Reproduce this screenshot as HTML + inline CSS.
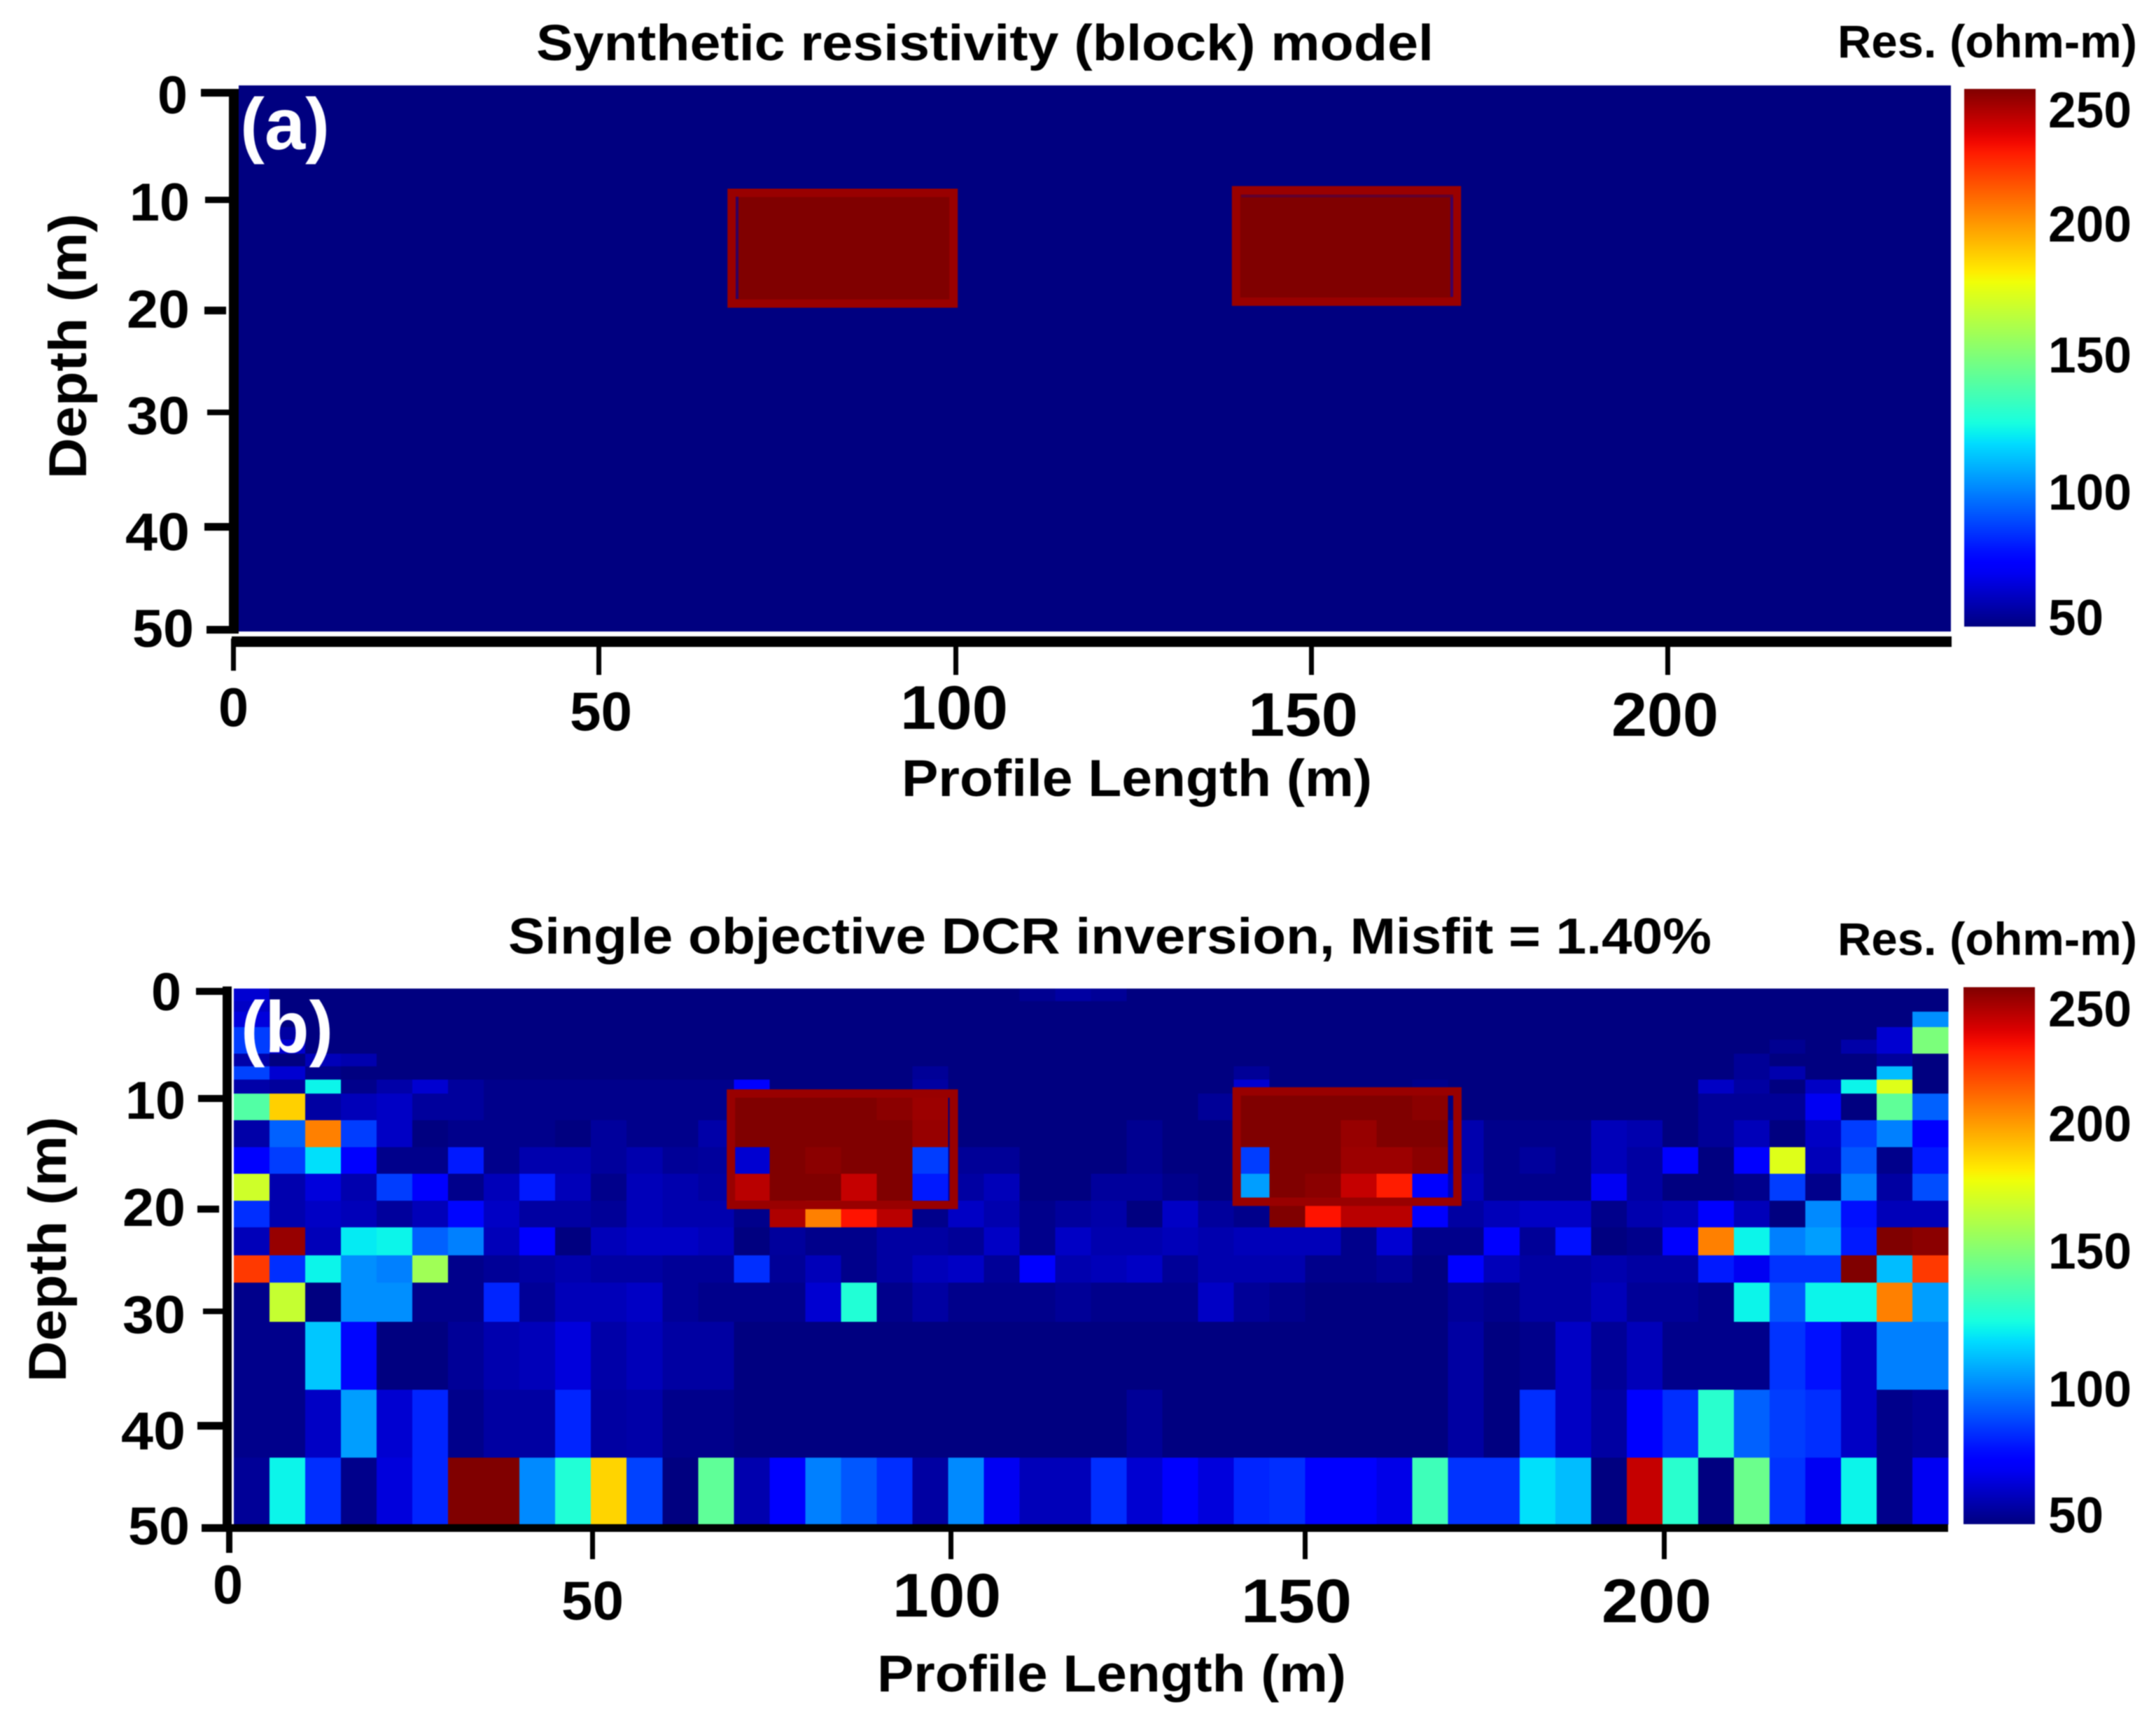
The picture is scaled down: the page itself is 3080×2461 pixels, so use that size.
<!DOCTYPE html>
<html lang="en">
<head>
<meta charset="utf-8">
<title>Synthetic resistivity model and DCR inversion</title>
<style>
html,body{margin:0;padding:0;background:#fff;width:3080px;height:2461px;overflow:hidden}
svg{display:block;filter:blur(0.7px)}
text{font-family:"Liberation Sans",sans-serif;font-weight:700;fill:#000}
</style>
</head>
<body>
<svg id="chart" xmlns="http://www.w3.org/2000/svg" width="3080" height="2461" viewBox="0 0 3080 2461">
<defs>
<linearGradient id="jetGrad" x1="0" y1="1" x2="0" y2="0"></linearGradient>
</defs>
<rect width="3080" height="2461" fill="#fff"/>

<!-- Panel A -->
<g id="panelA">
  <text x="766" y="86" font-size="72" textLength="1282" lengthAdjust="spacingAndGlyphs">Synthetic resistivity (block) model</text>
  <text x="2625" y="82" font-size="66" textLength="428" lengthAdjust="spacingAndGlyphs">Res. (ohm-m)</text>
  <rect id="plotA" x="341" y="122" width="2446" height="780" fill="#000080"/>
  <g id="blocksA"></g>
  <rect x="1051" y="281" width="4" height="146" fill="#300060"/>
  <rect x="2072" y="278" width="4" height="146" fill="#400060"/>
  <rect x="1773" y="278" width="303" height="4" fill="#600030"/>
  <rect x="327" y="127" width="14" height="778" fill="#000"/>
  <rect x="331" y="909" width="2457" height="15" fill="#000"/>
  <g fill="#000">
    <rect x="287" y="127" width="42" height="11"/>
    <rect x="293" y="281" width="36" height="9"/>
    <rect x="292" y="438" width="31" height="11"/>
    <rect x="296" y="585" width="33" height="8"/>
    <rect x="292" y="747" width="36" height="11"/>
    <rect x="295" y="894" width="34" height="11"/>
  </g>
  <g font-size="76" text-anchor="end">
    <text x="268" y="162" textLength="43" lengthAdjust="spacingAndGlyphs">0</text>
    <text x="271" y="315" textLength="86" lengthAdjust="spacingAndGlyphs">10</text>
    <text x="271" y="468" textLength="90" lengthAdjust="spacingAndGlyphs">20</text>
    <text x="271" y="620" textLength="90" lengthAdjust="spacingAndGlyphs">30</text>
    <text x="271" y="786" textLength="92" lengthAdjust="spacingAndGlyphs">40</text>
    <text x="277" y="924" textLength="88" lengthAdjust="spacingAndGlyphs">50</text>
  </g>
  <text transform="translate(123,684) rotate(-90)" font-size="76" textLength="379" lengthAdjust="spacingAndGlyphs">Depth (m)</text>
  <g fill="#000">
    <rect x="330" y="912" width="7" height="46"/>
    <rect x="852" y="920" width="7" height="44"/>
    <rect x="1362" y="920" width="7" height="44"/>
    <rect x="1870" y="920" width="7" height="44"/>
    <rect x="2379" y="920" width="7" height="44"/>
  </g>
  <g>
    <text x="312" y="1037" font-size="78" textLength="43" lengthAdjust="spacingAndGlyphs">0</text>
    <text x="814" y="1043" font-size="78" textLength="89" lengthAdjust="spacingAndGlyphs">50</text>
    <text x="1286" y="1041" font-size="88" textLength="154" lengthAdjust="spacingAndGlyphs">100</text>
    <text x="1783" y="1051" font-size="88" textLength="157" lengthAdjust="spacingAndGlyphs">150</text>
    <text x="2302" y="1051" font-size="88" textLength="153" lengthAdjust="spacingAndGlyphs">200</text>
  </g>
  <text x="1288" y="1137" font-size="74" textLength="672" lengthAdjust="spacingAndGlyphs">Profile Length (m)</text>
  <text x="343" y="213" font-size="104" style="fill:#fff" textLength="128" lengthAdjust="spacingAndGlyphs">(a)</text>
  <rect x="2806" y="127" width="102" height="768" fill="url(#jetGrad)"/>
  <g font-size="72">
    <text x="2926" y="182" textLength="119" lengthAdjust="spacingAndGlyphs">250</text>
    <text x="2926" y="345" textLength="119" lengthAdjust="spacingAndGlyphs">200</text>
    <text x="2926" y="532" textLength="119" lengthAdjust="spacingAndGlyphs">150</text>
    <text x="2926" y="728" textLength="119" lengthAdjust="spacingAndGlyphs">100</text>
    <text x="2926" y="907" textLength="79" lengthAdjust="spacingAndGlyphs">50</text>
  </g>
</g>

<!-- Panel B -->
<g id="panelB">
  <text x="726" y="1362" font-size="72" textLength="1719" lengthAdjust="spacingAndGlyphs">Single objective DCR inversion, Misfit = 1.40%</text>
  <text x="2625" y="1364" font-size="66" textLength="428" lengthAdjust="spacingAndGlyphs">Res. (ohm-m)</text>
  <g id="cellsB" shape-rendering="crispEdges"></g>
  <g id="boxesB"></g>
  <rect x="318" y="1409" width="13" height="774" fill="#000"/>
  <rect x="288" y="2177" width="2495" height="11" fill="#000"/>
  <g fill="#000">
    <rect x="280" y="1411" width="40" height="10"/>
    <rect x="283" y="1564" width="37" height="10"/>
    <rect x="282" y="1722" width="31" height="10"/>
    <rect x="290" y="1869" width="30" height="8"/>
    <rect x="282" y="2031" width="38" height="11"/>
  </g>
  <g font-size="76" text-anchor="end">
    <text x="259" y="1443" textLength="43" lengthAdjust="spacingAndGlyphs">0</text>
    <text x="265" y="1598" textLength="86" lengthAdjust="spacingAndGlyphs">10</text>
    <text x="265" y="1751" textLength="90" lengthAdjust="spacingAndGlyphs">20</text>
    <text x="265" y="1904" textLength="90" lengthAdjust="spacingAndGlyphs">30</text>
    <text x="265" y="2070" textLength="92" lengthAdjust="spacingAndGlyphs">40</text>
    <text x="271" y="2206" textLength="88" lengthAdjust="spacingAndGlyphs">50</text>
  </g>
  <text transform="translate(94,1974) rotate(-90)" font-size="76" textLength="379" lengthAdjust="spacingAndGlyphs">Depth (m)</text>
  <g fill="#000">
    <rect x="323" y="2183" width="9" height="35"/>
    <rect x="843" y="2185" width="7" height="42"/>
    <rect x="1355" y="2185" width="7" height="42"/>
    <rect x="1861" y="2185" width="7" height="42"/>
    <rect x="2374" y="2185" width="7" height="42"/>
  </g>
  <g>
    <text x="304" y="2290" font-size="78" textLength="43" lengthAdjust="spacingAndGlyphs">0</text>
    <text x="802" y="2313" font-size="78" textLength="89" lengthAdjust="spacingAndGlyphs">50</text>
    <text x="1275" y="2309" font-size="88" textLength="155" lengthAdjust="spacingAndGlyphs">100</text>
    <text x="1773" y="2317" font-size="88" textLength="158" lengthAdjust="spacingAndGlyphs">150</text>
    <text x="2288" y="2317" font-size="88" textLength="157" lengthAdjust="spacingAndGlyphs">200</text>
  </g>
  <text x="1253" y="2416" font-size="74" textLength="670" lengthAdjust="spacingAndGlyphs">Profile Length (m)</text>
  <text x="344" y="1503" font-size="104" style="fill:#fff" textLength="132" lengthAdjust="spacingAndGlyphs">(b)</text>
  <rect x="2805" y="1410" width="102" height="767" fill="url(#jetGrad)"/>
  <g font-size="72">
    <text x="2926" y="1466" textLength="119" lengthAdjust="spacingAndGlyphs">250</text>
    <text x="2926" y="1630" textLength="119" lengthAdjust="spacingAndGlyphs">200</text>
    <text x="2926" y="1812" textLength="119" lengthAdjust="spacingAndGlyphs">150</text>
    <text x="2926" y="2009" textLength="119" lengthAdjust="spacingAndGlyphs">100</text>
    <text x="2926" y="2189" textLength="79" lengthAdjust="spacingAndGlyphs">50</text>
  </g>
</g>
</svg>

<script>
// Data (metres and ohm-m)
const columnWidthM = 5;
const depthEdgesM = [0,1.18,2.16,3.6,4.77,6.08,7.25,8.5,9.8,12.3,14.8,17.3,19.8,22.3,24.9,27.45,31.1,37.45,43.8,50];
const resMin = 50;
const resMax = 250;
const blockXStartA = [69.1,139.8];
const blockXEndA = [100.2,170.75];
const blockDepthTopA = [9.84,9.6];
const blockDepthBottomA = [19.97,19.8];
const blockXStartB = [69.6,140.4];
const blockXEndB = [100.8,171.3];
const blockDepthTopB = [9.8,9.6];
const blockDepthBottomB = [20.2,19.9];
const resistivityRows = [
[64,50,50,50,50,50,50,50, 50,50,50,50,50,50,50,50, 50,50,50,50,50,50,53,56, 54,50,50,50,50,50,50,50, 50,50,50,50,50,50,50,50, 50,50,50,50,50,50,50,50],
[62,50,50,50,50,50,50,50, 50,50,50,50,50,50,50,50, 50,50,50,50,50,50,50,50, 50,50,50,50,50,50,50,50, 50,50,50,50,50,50,50,50, 50,50,50,50,50,50,50,50],
[66,50,50,50,50,50,50,50, 50,50,50,50,50,50,50,50, 50,50,50,50,50,50,50,50, 50,50,50,50,50,50,50,50, 50,50,50,50,50,50,50,50, 50,50,50,50,50,50,50,103],
[87,56,50,50,50,50,50,50, 50,50,50,50,50,50,50,50, 50,50,50,50,50,50,50,50, 50,50,50,50,50,50,50,50, 50,50,50,50,50,50,50,50, 50,50,50,50,50,50,64,150],
[87,64,50,50,50,50,50,50, 50,50,50,50,50,50,50,50, 50,50,50,50,50,50,50,50, 50,50,50,50,50,50,50,50, 50,50,50,50,50,50,50,50, 50,50,50,53,50,57,64,150],
[57,50,60,58,50,50,50,50, 50,50,50,50,50,50,50,50, 50,50,50,50,50,50,50,50, 50,50,50,50,50,50,50,50, 50,50,50,50,50,50,50,50, 50,50,54,50,50,50,55,50],
[88,64,52,50,50,50,50,50, 50,50,50,50,50,50,50,50, 50,50,50,54,50,50,50,50, 50,50,50,50,54,50,50,50, 50,50,50,50,50,50,50,50, 50,50,54,58,50,50,112,50],
[57,55,123,52,57,64,55,52, 52,52,52,52,52,52,72,50, 50,50,50,56,50,50,50,50, 50,50,50,50,64,50,50,50, 50,52,50,50,50,50,50,50, 50,62,56,50,62,123,174,50],
[140,188,56,60,62,55,55,52, 52,52,52,52,52,52,250,250, 250,250,248,245,50,50,50,50, 50,50,50,54,250,250,250,250, 250,248,50,50,50,50,50,50, 50,54,54,54,70,50,143,94],
[57,94,205,87,62,50,52,52, 52,50,55,52,52,57,250,250, 250,250,250,246,50,50,50,50, 50,53,50,50,250,250,250,246, 250,250,58,52,52,52,60,58, 50,54,60,50,62,87,100,72],
[72,87,119,72,52,52,80,52, 58,58,55,58,54,55,64,250, 248,250,250,87,54,54,50,50, 50,53,50,50,87,250,250,245, 245,248,58,52,55,52,60,56, 74,50,72,174,60,92,52,80],
[170,58,66,58,87,72,52,60, 80,60,52,60,58,56,240,250, 250,238,250,80,56,60,50,50, 55,55,52,50,106,250,248,238, 226,72,60,52,52,52,70,56, 50,50,52,87,52,100,56,90],
[84,58,62,60,55,60,76,62, 56,56,54,60,58,58,52,242, 205,228,240,52,62,58,52,55, 57,50,62,55,52,250,228,240, 240,72,56,60,62,62,52,58, 60,72,60,50,102,78,60,60],
[60,246,60,121,123,94,100,60, 72,50,60,62,62,60,50,55, 52,52,56,56,54,62,52,62, 58,58,60,58,60,60,60,52, 64,52,52,72,54,78,50,52, 72,205,123,100,106,80,250,248],
[220,84,123,103,100,159,52,54, 56,58,56,56,54,54,84,54, 60,52,56,60,62,54,72,58, 60,62,54,58,58,58,52,52, 54,50,72,60,56,56,58,56, 56,80,70,85,85,250,112,220],
[52,168,50,103,103,52,52,82, 54,60,60,62,54,52,52,52, 64,128,52,56,52,52,52,54, 52,52,52,62,54,52,50,50, 50,50,54,52,56,56,60,54, 54,52,123,92,123,123,205,106],
[52,52,114,76,50,50,54,58, 60,66,57,60,56,56,50,50, 50,50,50,50,50,50,50,50, 50,50,50,50,50,50,50,50, 50,50,56,50,52,62,54,60, 52,52,52,85,78,62,100,100],
[52,52,62,106,64,82,52,56, 56,82,56,57,52,52,50,50, 50,50,50,50,50,50,50,50, 50,54,50,50,50,50,50,50, 50,50,56,50,84,62,56,72, 84,130,94,87,84,62,52,54],
[54,123,84,52,66,82,250,250, 102,128,187,88,50,143,58,72, 100,92,84,56,102,70,60,60, 84,64,74,66,82,84,72,72, 68,135,85,85,119,112,50,238, 130,50,146,85,70,123,52,70]
];

// Axis functions
const NS = 'http://www.w3.org/2000/svg';
function xA(m){ return 341 + m * (2446 / 240); }
function zA(m){ return 122 + m * (780 / 50); }
function xB(m){ return 334 + m * (2449 / 240); }
function zB(m){ return 1412 + m * (765 / 50); }

function lerpStops(t, stops){
  for(let i = 1; i < stops.length; i++){
    if(t <= stops[i][0]){
      const a = stops[i-1], b = stops[i];
      return a[1] + (b[1] - a[1]) * (t - a[0]) / (b[0] - a[0]);
    }
  }
  return stops[stops.length-1][1];
}
function jet(t){
  t = Math.max(0, Math.min(1, t));
  const r = lerpStops(t, [[0,0],[0.35,0],[0.66,1],[0.89,1],[1,0.5]]);
  const g = lerpStops(t, [[0,0],[0.125,0],[0.375,1],[0.64,1],[0.91,0],[1,0]]);
  const b = lerpStops(t, [[0,0.5],[0.11,1],[0.34,1],[0.65,0],[1,0]]);
  return 'rgb(' + Math.round(r*255) + ',' + Math.round(g*255) + ',' + Math.round(b*255) + ')';
}
function colorOf(v){ return jet((v - resMin) / (resMax - resMin)); }

// Colorbar gradient
const grad = document.getElementById('jetGrad');
for(let i = 0; i <= 50; i++){
  const stop = document.createElementNS(NS, 'stop');
  stop.setAttribute('offset', (i / 50));
  stop.setAttribute('stop-color', jet(i / 50));
  grad.appendChild(stop);
}

// Panel (b) heatmap cells
const cellsB = document.getElementById('cellsB');
resistivityRows.forEach(function(row, r){
  row.forEach(function(v, c){
    const el = document.createElementNS(NS, 'rect');
    const x0 = xB(c * columnWidthM), x1 = xB((c + 1) * columnWidthM);
    const y0 = zB(depthEdgesM[r]), y1 = zB(depthEdgesM[r + 1]);
    el.setAttribute('x', x0);
    el.setAttribute('y', y0);
    el.setAttribute('width', x1 - x0 + 0.5);
    el.setAttribute('height', y1 - y0 + 0.5);
    el.setAttribute('fill', colorOf(v));
    
    
    cellsB.appendChild(el);
  });
});

// Panel (a) blocks
const blocksA = document.getElementById('blocksA');
blockXStartA.forEach(function(x0, i){
  const el = document.createElementNS(NS, 'rect');
  el.setAttribute('x', xA(x0));
  el.setAttribute('y', zA(blockDepthTopA[i]));
  el.setAttribute('width', xA(blockXEndA[i]) - xA(x0));
  el.setAttribute('height', zA(blockDepthBottomA[i]) - zA(blockDepthTopA[i]));
  el.setAttribute('fill', colorOf(resMax));
  el.setAttribute('stroke', '#990000');
  el.setAttribute('stroke-width', '12');
  
  
  blocksA.appendChild(el);
});

// Panel (b) outlines
const boxesB = document.getElementById('boxesB');
blockXStartB.forEach(function(x0, i){
  const el = document.createElementNS(NS, 'rect');
  el.setAttribute('x', xB(x0));
  el.setAttribute('y', zB(blockDepthTopB[i]));
  el.setAttribute('width', xB(blockXEndB[i]) - xB(x0));
  el.setAttribute('height', zB(blockDepthBottomB[i]) - zB(blockDepthTopB[i]));
  el.setAttribute('fill', 'none');
  el.setAttribute('stroke', '#990000');
  el.setAttribute('stroke-width', '12');
  
  
  boxesB.appendChild(el);
});
</script>
</body>
</html>
